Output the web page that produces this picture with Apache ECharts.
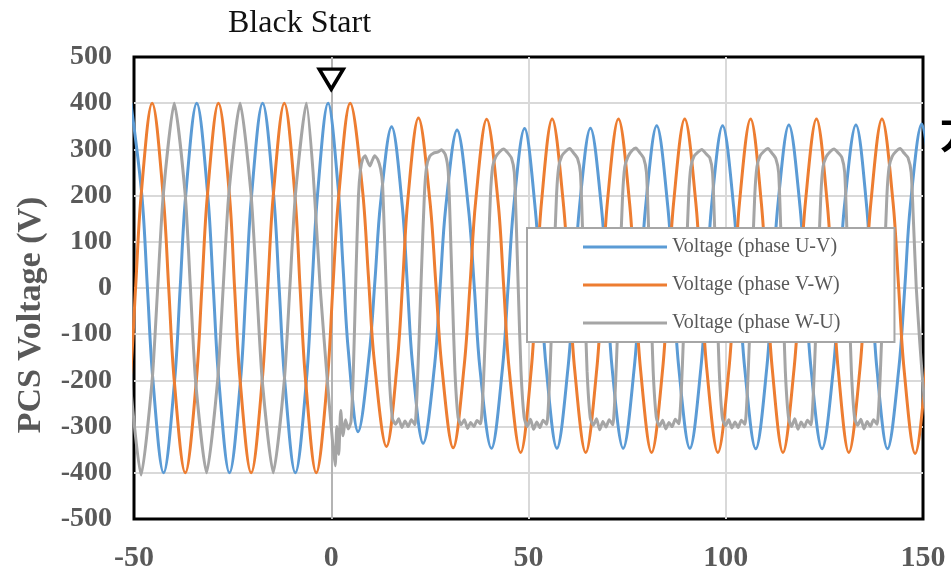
<!DOCTYPE html>
<html>
<head>
<meta charset="utf-8">
<script src="https://cdn.jsdelivr.net/npm/echarts@6/dist/echarts.min.js"></script>
<style>
html,body{margin:0;padding:0;background:#fff;}
#chart{width:951px;height:572px;}
</style>
</head>
<body>
<div id="chart"></div>
<script>
// ---- data (time in ms, voltage in V) ----
var seriesNames = ['Voltage (phase U-V)', 'Voltage (phase V-W)', 'Voltage (phase W-U)'];
var xTicks = [-50, 0, 50, 100, 150];
var yTicks = [-500, -400, -300, -200, -100, 0, 100, 200, 300, 400, 500];
var eventTime = 0;
var eventLabel = 'Black Start';

var uvPoints = [
[-50.8,400],[-48.0,200],[-46.6,0],[-45.2,-200],[-42.5,-400],[-39.7,-200],[-38.3,0],[-36.9,200],[-34.1,400],
[-31.3,200],[-29.9,0],[-28.5,-200],[-25.8,-400],[-23.0,-200],[-21.6,0],[-20.2,200],[-17.4,400],
[-14.6,200],[-13.2,0],[-11.8,-200],[-9.1,-400],[-6.3,-200],[-4.9,0],[-3.5,200],[-0.8,400],
[1.7,222],[3.0,44],[4.3,-133],[6.8,-311],
[9.6,-146],[11.1,19],[12.5,184],[15.3,349],
[18.0,178],[19.3,6],[20.6,-165],[23.3,-336],
[26.2,-167],[27.6,3],[29.0,173],[31.9,342],
[34.8,170],[36.3,-3],[37.7,-175],[40.6,-347],
[43.4,-174],[44.8,-1],[46.2,172],[49.0,345],
[51.7,172],[53.1,-1],[54.5,-174],[57.2,-347],
[60.0,-174],[61.5,0],[62.9,173],[65.7,346],
[68.5,173],[69.9,0],[71.2,-174],[74.0,-347],
[76.8,-173],[78.3,2],[79.7,177],[82.5,351],
[85.3,177],[86.7,2],[88.1,-173],[90.9,-347],
[93.7,-173],[95.1,2],[96.4,177],[99.2,351],
[102.0,176],[103.4,1],[104.8,-173],[107.6,-348],
[110.4,-173],[111.8,2],[113.2,178],[116.0,353],
[118.8,178],[120.2,2],[121.6,-173],[124.4,-348],
[127.3,-173],[128.7,2],[130.1,178],[133.0,353],
[135.7,178],[137.0,2],[138.3,-173],[141.0,-348],
[143.9,-172],[145.4,3],[146.8,179],[149.7,355],
[152.5,179]
];

var vwPoints = [
[-53.8,-400],[-51.0,-200],[-49.6,0],[-48.2,200],[-45.4,400],[-42.6,200],[-41.2,0],[-39.8,-200],[-37.0,-400],
[-34.2,-200],[-32.8,0],[-31.4,200],[-28.6,400],[-25.8,200],[-24.5,0],[-23.1,-200],[-20.3,-400],
[-17.5,-200],[-16.1,0],[-14.7,200],[-11.9,400],[-9.2,200],[-7.9,0],[-6.5,-200],[-3.8,-400],
[-1.0,-200],[0.4,0],[1.9,200],[4.8,400],
[7.9,214],[9.4,28],[10.9,-157],[14.0,-343],
[16.7,-165],[18.1,12],[19.4,190],[22.1,368],
[25.0,189],[26.5,11],[28.0,-168],[30.9,-346],
[33.7,-168],[35.2,10],[36.6,187],[39.4,365],
[42.3,185],[43.7,5],[45.1,-176],[48.0,-356],
[50.7,-176],[52.0,5],[53.3,186],[56.0,366],
[58.8,186],[60.3,5],[61.7,-176],[64.5,-356],
[67.3,-176],[68.7,5],[70.0,186],[72.8,366],
[75.6,186],[77.0,5],[78.4,-176],[81.2,-356],
[84.0,-176],[85.4,5],[86.8,186],[89.6,366],
[92.4,186],[93.8,5],[95.2,-176],[98.0,-356],
[100.8,-176],[102.2,5],[103.5,186],[106.3,366],
[109.0,186],[110.4,5],[111.8,-176],[114.5,-356],
[117.3,-176],[118.8,5],[120.2,186],[123.0,366],
[125.7,186],[127.1,5],[128.5,-176],[131.2,-356],
[134.0,-176],[135.4,5],[136.8,186],[139.6,366],
[142.4,186],[143.8,5],[145.2,-176],[148.0,-358],
[150.8,-176],[152.2,5]
];

var wuPoints = [
[-56.6,400],[-53.8,200],[-52.4,0],[-51.0,-200],[-48.2,-405],[-45.4,-200],[-44.0,0],[-42.6,200],[-39.8,400],
[-37.0,200],[-35.7,0],[-34.4,-200],[-31.6,-400],[-28.8,-200],[-27.4,0],[-26.0,200],[-23.1,400],
[-20.3,200],[-18.9,0],[-17.5,-200],[-14.7,-400],[-11.9,-200],[-10.5,0],[-9.1,200],[-6.3,400],
[-4.6,250],[-2.8,0],[-1.0,-200],[0.3,-330],[1.0,-385],[1.4,-300],[1.9,-360],[2.4,-265],[3.0,-320],
[3.6,-285],[4.3,-305],[5.0,-290],[5.6,-180],[6.3,40],[6.9,200],[7.4,255],[8.0,280],[8.6,286],
[9.2,274],[9.8,264],[10.4,276],[11.0,286],[11.8,278],[12.5,258],[13.0,225],[13.5,110],[14.0,-20],
[14.7,-190],[15.5,-282],[16.3,-295],[17.1,-283],[17.9,-302],[18.7,-288],[19.5,-300],[20.3,-285],
[21.2,-296],[22.0,-170],[22.8,20],[23.6,200],
[24.15,262],[24.95,285],[25.95,292],[26.95,294],[27.95,299],[28.95,288],[29.65,252],[30.15,140],[30.65,0],
[31.35,-180],[32.15,-280],[32.95,-296],[33.75,-285],[34.55,-304],[35.35,-291],[36.15,-300],[36.95,-287],
[37.85,-294],[38.75,-170],[39.55,20],[40.35,200],
[40.9,262],[41.7,284],[42.7,295],[43.7,301],[44.7,293],[45.7,281],[46.4,250],[46.9,140],[47.4,0],
[48.1,-180],[48.9,-280],[49.7,-300],[50.5,-284],[51.3,-306],[52.1,-290],[52.9,-302],[53.7,-286],
[54.6,-295],[55.5,-170],[56.3,20],[57.1,200],
[57.65,262],[58.45,286],[59.45,296],[60.45,302],[61.45,292],[62.45,280],[63.15,250],[63.65,140],[64.15,0],
[64.85,-180],[65.65,-281],[66.45,-297],[67.25,-283],[68.05,-307],[68.85,-289],[69.65,-301],[70.45,-285],
[71.35,-296],[72.25,-170],[73.05,20],[73.85,200],
[74.4,262],[75.2,284],[76.2,297],[77.2,303],[78.2,293],[79.2,281],[79.9,250],[80.4,140],[80.9,0],
[81.6,-180],[82.4,-280],[83.2,-299],[84.0,-286],[84.8,-305],[85.6,-291],[86.4,-300],[87.2,-284],
[88.1,-294],[89.0,-170],[89.8,20],[90.6,200],
[91.15,262],[91.95,285],[92.95,294],[93.95,300],[94.95,291],[95.95,282],[96.65,250],[97.15,140],[97.65,0],
[98.35,-180],[99.15,-282],[99.95,-298],[100.75,-285],[101.55,-303],[102.35,-290],[103.15,-302],[103.95,-286],
[104.85,-295],[105.75,-170],[106.55,20],[107.35,200],
[107.9,262],[108.7,286],[109.7,296],[110.7,302],[111.7,292],[112.7,280],[113.4,250],[113.9,140],[114.4,0],
[115.1,-180],[115.9,-280],[116.7,-300],[117.5,-283],[118.3,-306],[119.1,-290],[119.9,-301],[120.7,-286],
[121.6,-296],[122.5,-170],[123.3,20],[124.1,200],
[124.65,262],[125.45,284],[126.45,295],[127.45,301],[128.45,293],[129.45,282],[130.15,250],[130.65,140],[131.15,0],
[131.85,-180],[132.65,-281],[133.45,-297],[134.25,-284],[135.05,-305],[135.85,-289],[136.65,-300],[137.45,-285],
[138.35,-295],[139.25,-170],[140.05,20],[140.85,200],
[141.4,262],[142.2,285],[143.2,296],[144.2,302],[145.2,292],[146.2,282],[147.0,250],[147.6,140],[148.3,0],
[149.2,-120],[150.2,-230],[151.0,-285]
];

var colors = ['#5b9bd5', '#ed7d31', '#a5a5a5'];
var serif = '"Liberation Serif", "Times New Roman", serif';

var chart = echarts.init(document.getElementById('chart'), null, {renderer: 'canvas'});

function mkSeries(name, data, color, smooth, extra) {
  var s = {
    name: name,
    type: 'line',
    data: data,
    symbol: 'none',
    showSymbol: false,
    smooth: smooth,
    clip: true,
    animation: false,
    lineStyle: {color: color, width: 3},
    itemStyle: {color: color}
  };
  if (extra) { for (var k in extra) s[k] = extra[k]; }
  return s;
}

var option = {
  animation: false,
  backgroundColor: '#ffffff',
  grid: {
    left: 134, right: 28, top: 57, bottom: 53,
    show: true, borderColor: '#000000', borderWidth: 3,
    backgroundColor: 'transparent',
    containLabel: false,
    outerBoundsMode: 'none'
  },
  legend: {
    data: seriesNames,
    orient: 'vertical',
    left: 527, top: 228,
    padding: [9, 54, 9, 56],
    backgroundColor: '#ffffff',
    borderColor: '#a6a6a6',
    borderWidth: 2,
    icon: 'rect',
    itemWidth: 84, itemHeight: 3, itemGap: 18,
    selectedMode: false,
    textStyle: {fontFamily: serif, fontSize: 20, color: '#595959', lineHeight: 20}
  },
  xAxis: {
    type: 'value',
    min: xTicks[0], max: xTicks[xTicks.length - 1], interval: 50,
    axisLine: {show: false},
    axisTick: {show: false},
    splitLine: {show: true, showMinLine: false, showMaxLine: false, lineStyle: {color: '#d9d9d9', width: 2}},
    axisLabel: {fontFamily: serif, fontWeight: 'bold', fontSize: 30, color: '#595959', margin: 24}
  },
  yAxis: {
    type: 'value',
    min: yTicks[0], max: yTicks[yTicks.length - 1], interval: 100,
    name: 'PCS Voltage (V)',
    nameLocation: 'middle',
    nameGap: 86,
    nameTextStyle: {fontFamily: serif, fontWeight: 'bold', fontSize: 34, color: '#595959', padding: [0, 54, 0, 0]},
    axisLine: {show: false},
    axisTick: {show: false},
    splitLine: {show: true, showMinLine: false, showMaxLine: false, lineStyle: {color: '#d9d9d9', width: 2}},
    axisLabel: {fontFamily: serif, fontWeight: 'bold', fontSize: 28, color: '#595959', margin: 22}
  },
  series: [
    mkSeries(seriesNames[0], uvPoints, colors[0], 0.35, {
      markLine: {
        silent: true, symbol: ['none', 'none'], z: 1,
        lineStyle: {color: '#b4b4b4', width: 2, type: 'solid'},
        label: {show: false},
        data: [{xAxis: eventTime}]
      },
      markPoint: {
        silent: true,
        data: [{coord: [eventTime, 452], symbol: 'triangle', symbolSize: [24, 20], symbolRotate: 180,
          itemStyle: {color: '#ffffff', borderColor: '#000000', borderWidth: 3.5}, label: {show: false}}]
      }
    }),
    mkSeries(seriesNames[1], vwPoints, colors[1], 0.35),
    mkSeries(seriesNames[2], wuPoints, colors[2], 0.2)
  ],
  graphic: [
    {type: 'text', left: 228, top: 8, z: 100,
      style: {text: eventLabel, font: '32px ' + serif, fill: '#111111'}},
    {type: 'text', left: 940, top: 113, z: 100,
      style: {text: '方', font: 'bold 40px "Noto Sans CJK JP"', fill: '#000000'}}
  ]
};
chart.setOption(option);
</script>
</body>
</html>
